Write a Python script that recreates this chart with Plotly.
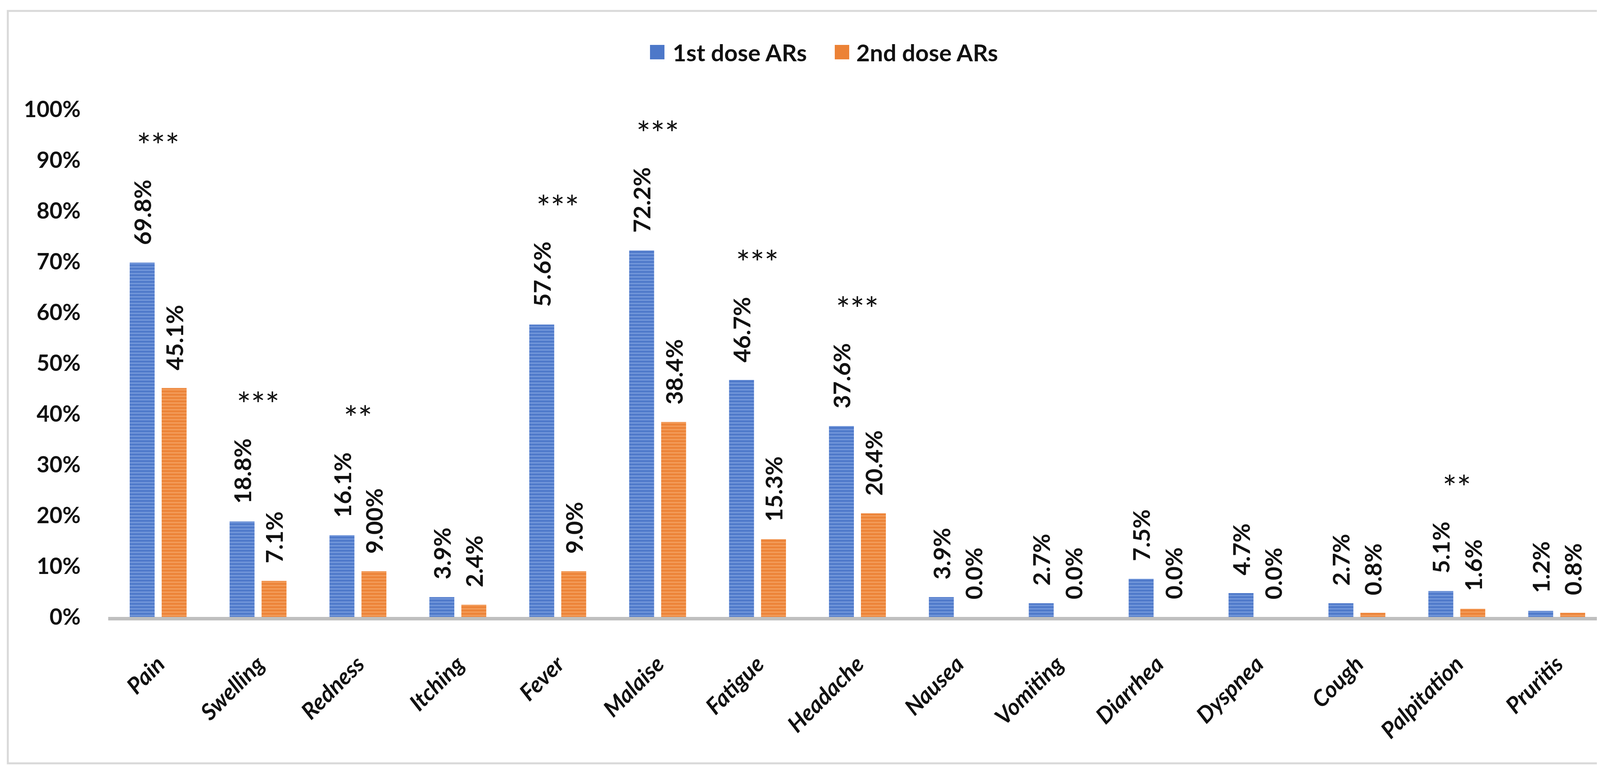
import plotly.graph_objects as go

categories = ["Pain", "Swelling", "Redness", "Itching", "Fever", "Malaise", "Fatigue",
              "Headache", "Nausea", "Vomiting", "Diarrhea", "Dyspnea", "Cough",
              "Palpitation", "Pruritis"]
dose1 = [69.8, 18.8, 16.1, 3.9, 57.6, 72.2, 46.7, 37.6, 3.9, 2.7, 7.5, 4.7, 2.7, 5.1, 1.2]
dose2 = [45.1, 7.1, 9.0, 2.4, 9.0, 38.4, 15.3, 20.4, 0.0, 0.0, 0.0, 0.0, 0.8, 1.6, 0.8]
dose1_text = ["69.8%", "18.8%", "16.1%", "3.9%", "57.6%", "72.2%", "46.7%", "37.6%",
              "3.9%", "2.7%", "7.5%", "4.7%", "2.7%", "5.1%", "1.2%"]
dose2_text = ["45.1%", "7.1%", "9.00%", "2.4%", "9.0%", "38.4%", "15.3%", "20.4%",
              "0.0%", "0.0%", "0.0%", "0.0%", "0.8%", "1.6%", "0.8%"]
significance = ["***", "***", "**", "", "***", "***", "***", "***",
                "", "", "", "", "", "**", ""]
series_names = ["1st dose ARs", "2nd dose ARs"]
y_ticks = [0, 10, 20, 30, 40, 50, 60, 70, 80, 90, 100]
y_tick_labels = ["0%", "10%", "20%", "30%", "40%", "50%", "60%", "70%", "80%", "90%", "100%"]

# ---- layout constants (pixels, page coordinates) ----
PAGE_W, PAGE_H = 4198, 1990
BODY = 8                     # default html body margin
W, H = PAGE_W - BODY, PAGE_H - BODY
PLOT_L, PLOT_R, PLOT_T, PLOT_B = 277, 4113, 280, 1580
PL, PR = PLOT_L - BODY, PAGE_W - PLOT_R
PT, PB = PLOT_T - BODY, PAGE_H - PLOT_B
plot_w = PLOT_R - PLOT_L
plot_h = PLOT_B - PLOT_T
Y_MAX = 100
px_per_unit = plot_h / Y_MAX
cat_w = plot_w / len(categories)
BAR_OFF = 0.16          # bar centre offset in category units
LABEL_GAP = 43
STAR_GAP = 88
FONT = "Lato"
LBL_SIZE = 60
CAT_SIZE = 58
TXT = "#111111"

BLUE_BG, BLUE_FG = "#4d78c9", "#98b6ec"
ORG_BG, ORG_FG = "#ec8236", "#f9b67e"


def label_len(s, size=LBL_SIZE):
    w = {".": 0.27, "%": 0.84}
    return size * sum(w.get(c, 0.58) for c in s)


fig = go.Figure()
for name, vals, bg, fg in [(series_names[0], dose1, BLUE_BG, BLUE_FG),
                           (series_names[1], dose2, ORG_BG, ORG_FG)]:
    fig.add_trace(go.Bar(
        x=categories, y=vals, name=name, showlegend=False,
        marker=dict(color=bg, line=dict(width=0),
                    pattern=dict(shape="-", fillmode="overlay", bgcolor=bg,
                                 fgcolor=fg, size=8.5, solidity=0.45)),
        hoverinfo="x+y",
    ))

annotations = []
dx = BAR_OFF * cat_w
for i, c in enumerate(categories):
    for vals, texts, sh in [(dose1, dose1_text, -dx), (dose2, dose2_text, dx)]:
        annotations.append(dict(
            x=c, y=vals[i], xref="x", yref="y", text=texts[i], showarrow=False,
            textangle=-90, xanchor="center", yanchor="bottom",
            xshift=sh, yshift=LABEL_GAP,
            font=dict(family=FONT, size=LBL_SIZE, color=TXT, weight="bold"),
        ))
    if significance[i]:
        vm = max(dose1[i], dose2[i])
        top = max((dose1[i] - vm) * px_per_unit + LABEL_GAP + label_len(dose1_text[i]),
                  (dose2[i] - vm) * px_per_unit + LABEL_GAP + label_len(dose2_text[i]))
        annotations.append(dict(
            x=c, y=vm, xref="x", yref="y", text=significance[i], showarrow=False,
            xanchor="center", yanchor="middle", yshift=top + STAR_GAP,
            font=dict(family=FONT, size=86, color=TXT),
        ))


# page pixel -> paper helpers
def px_x(p):
    return (p - PLOT_L) / plot_w


def px_y(p):
    return (PLOT_B - p) / plot_h


shapes = []
legend_items = [(series_names[0], BLUE_BG, 1664, 1720), (series_names[1], ORG_BG, 2137, 2190)]
for name, col, sx, tx in legend_items:
    shapes.append(dict(type="rect", xref="paper", yref="paper",
                       x0=px_x(sx), x1=px_x(sx + 37), y0=px_y(152), y1=px_y(115),
                       fillcolor=col, line=dict(width=0)))
    annotations.append(dict(x=px_x(tx), y=px_y(134), xref="paper", yref="paper",
                            text=name, showarrow=False, xanchor="left", yanchor="middle",
                            font=dict(family=FONT, size=60, color=TXT, weight="bold")))

# outer frame
shapes.append(dict(type="rect", xref="paper", yref="paper",
                   x0=px_x(20), x1=px_x(4170), y0=px_y(1955), y1=px_y(28),
                   line=dict(color="#d9d9d9", width=5), fillcolor="rgba(0,0,0,0)",
                   layer="below"))

fig.update_layout(
    width=W, height=H,
    margin=dict(l=PL, r=PR, t=PT, b=PB, autoexpand=False),
    paper_bgcolor="white", plot_bgcolor="white",
    barmode="group", bargap=0.36, bargroupgap=0.22,
    showlegend=False,
    annotations=annotations, shapes=shapes,
    font=dict(family=FONT, color=TXT),
    xaxis=dict(
        type="category", showgrid=False, zeroline=False,
        showline=True, linecolor="#bfbfbf", linewidth=9,
        ticks="outside", ticklen=55, tickcolor="rgba(0,0,0,0)",
        tickangle=-45,
        tickfont=dict(family=FONT, size=CAT_SIZE, color=TXT, weight="bold", style="italic"),
    ),
    yaxis=dict(
        range=[0, Y_MAX], tickvals=y_ticks, ticktext=y_tick_labels,
        showgrid=False, zeroline=False, showline=False,
        ticks="outside", ticklen=58, tickcolor="rgba(0,0,0,0)",
        tickfont=dict(family=FONT, size=57, color=TXT, weight="bold"),
    ),
)

fig.write_html("out.html")
